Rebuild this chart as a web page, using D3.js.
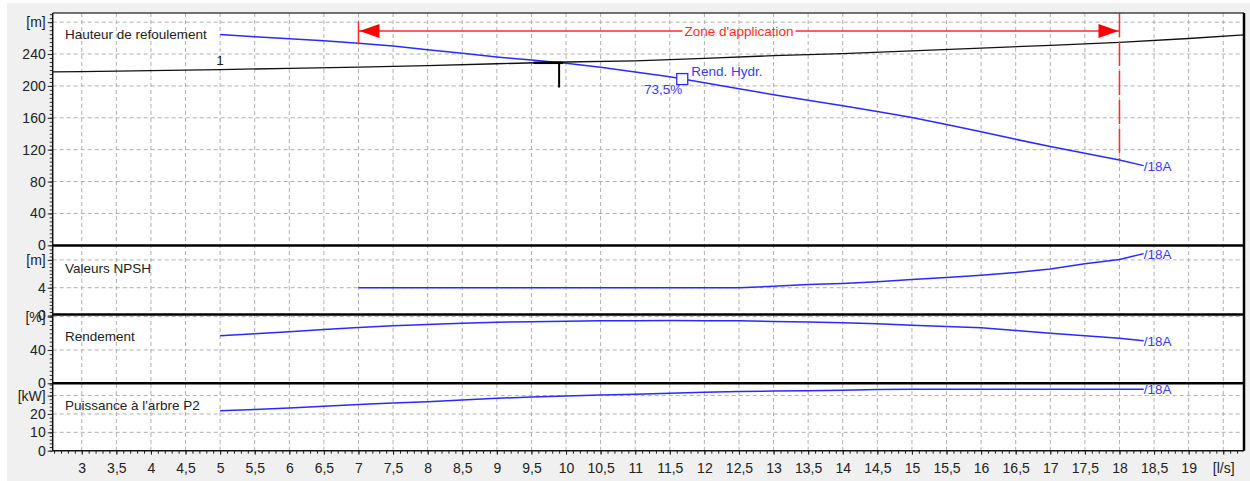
<!DOCTYPE html>
<html>
<head>
<meta charset="utf-8">
<script src="https://cdn.jsdelivr.net/npm/d3@7"></script>
<style>
  body { margin: 0; background: #fff; }
  svg { display: block; font-family: "Liberation Sans", Arial, sans-serif; }
</style>
</head>
<body>
<div id="viscontainer"></div>
<script>
// pump curve
const flow = [5, 5.5, 6, 6.5, 7, 7.5, 8, 8.5, 9, 9.5, 10, 10.5, 11, 11.5, 12, 12.5,
  13, 13.5, 14, 14.5, 15, 15.5, 16, 16.5, 17, 17.5, 18, 18.35];
const hauteur = [264.5, 261.8, 259.2, 256.7, 253.4, 250, 245.5, 241, 236.3, 232.5, 228.5, 223.5,
  217.5, 211.5, 204, 196.5, 189, 182, 175, 168, 160.5, 151.5, 142.5, 133, 124, 115.5, 107, 100];
const rendement = [57, 59.5, 62, 64.5, 67, 69, 70.5, 72, 73.2, 74, 74.5, 75, 75.2, 75.3, 75.2, 75,
  74.3, 73.5, 72.8, 71.5, 69.8, 68.3, 66.8, 63.5, 60, 57, 54, 51];
const puissance = [21.8, 22.5, 23.3, 24.2, 25.2, 26, 26.7, 27.6, 28.5, 29.2, 29.8, 30.3, 30.7,
  31.3, 31.8, 32.2, 32.5, 32.7, 32.9, 33.3, 33.4, 33.4, 33.4, 33.4, 33.4, 33.4, 33.4, 33.4];

const npshFlow = [7, 8, 9, 10, 11, 12, 12.5, 13, 13.5, 14, 14.5, 15, 15.5, 16, 16.5, 17, 17.5, 18, 18.35];
const npsh = [4, 4, 4, 4, 4, 4, 4, 4.2, 4.45, 4.6, 4.85, 5.17, 5.45, 5.8, 6.17, 6.7, 7.46, 8.07, 8.9];

// system curve "1"
const systemFlow = [2.58, 3, 4, 5, 6, 7, 8, 9, 10, 11, 12, 13, 14, 15, 16, 17, 18, 19, 19.8];
const systemHead = [217.5, 218, 219.3, 220.5, 222, 223.5, 225.5, 227.8, 230, 231.5, 234.5, 238,
  240.5, 244, 247.5, 251, 254.7, 259.5, 264];

const dutyPoint = { q: 9.9, h: 229 };
const bepPoint = { q: 11.68, h: 208.6, label: "73,5%" };
const zone = [7, 18];

const xTicks = [3, 3.5, 4, 4.5, 5, 5.5, 6, 6.5, 7, 7.5, 8, 8.5, 9, 9.5, 10, 10.5, 11, 11.5, 12,
  12.5, 13, 13.5, 14, 14.5, 15, 15.5, 16, 16.5, 17, 17.5, 18, 18.5, 19, 19.5];
const xUnit = "[l/s]";

const headTicks = [0, 40, 80, 120, 160, 200, 240, 280];
const npshTicks = [0, 4, 8];
const rendTicks = [0, 40, 80];
const puisTicks = [0, 10, 20, 30];

function makeVis() {
  const width = 1250;
  const height = 481;
  const left = 52.7, right = 1244, top = 13, bottom = 450.7;
  const blue = "#2a2aff";
  const blueText = "#3a3aff";
  const red = "#ff2a2a";
  const fmt = (v) => String(v).replace(".", ",");

  const svg = d3.create("svg").attr("width", width).attr("height", height);
  viscontainer.append(svg.node());

  svg.append("rect").attr("x", 7).attr("y", 3).attr("width", width - 7).attr("height", height - 3)
    .attr("fill", "#f0f0f0");
  svg.append("rect").attr("x", left).attr("y", top).attr("width", right - left).attr("height", bottom - top)
    .attr("fill", "#fff");

  const x = d3.scaleLinear().domain([2.58, 19.8]).range([left, right]);

  const panels = [
    { name: "Hauteur de refoulement", y: d3.scaleLinear([0, 291.5], [245.3, 13]), ticks: headTicks, unit: "[m]", minor: 5, labelY: 39,
      series: [{ q: flow, v: hauteur }] },
    { name: "Valeurs NPSH", y: d3.scaleLinear([0, 10], [315.5, 246]), ticks: npshTicks, unit: "[m]", minor: 0.5, labelY: 273,
      series: [{ q: npshFlow, v: npsh }] },
    { name: "Rendement", y: d3.scaleLinear([0, 83.2], [383.3, 314]), ticks: rendTicks, unit: "[%]", minor: 5, labelY: 341,
      series: [{ q: flow, v: rendement }] },
    { name: "Puissance à l'arbre P2", y: d3.scaleLinear([0, 36.7], [450.7, 383.3]), ticks: puisTicks, unit: "[kW]", minor: 2, labelY: 410,
      series: [{ q: flow, v: puissance }] },
  ];

  // vertical grid
  svg.append("g").selectAll("line").data(xTicks).join("line")
    .attr("x1", (d) => x(d)).attr("x2", (d) => x(d))
    .attr("y1", top).attr("y2", bottom)
    .attr("stroke", "#b0b0b0").attr("stroke-dasharray", "4,3");

  panels.forEach((p) => {
    const lastTick = p.ticks[p.ticks.length - 1];
    // horizontal grid
    svg.append("g").selectAll("line").data(p.ticks.slice(1)).join("line")
      .attr("x1", left).attr("x2", right)
      .attr("y1", (d) => p.y(d)).attr("y2", (d) => p.y(d))
      .attr("stroke", "#b0b0b0").attr("stroke-dasharray", "4,3");

    // minor ticks
    const [d0, d1] = p.y.domain();
    const minorAxis = d3.axisLeft(p.y).tickValues(d3.range(d0, d1, p.minor)).tickSize(3).tickFormat("");
    svg.append("g").attr("transform", `translate(${left},0)`).call(minorAxis)
      .call((g) => g.select(".domain").remove())
      .selectAll("line").attr("stroke", "#333");

    const axis = d3.axisLeft(p.y).tickValues(p.ticks).tickSize(5).tickPadding(2)
      .tickFormat((d) => (d === lastTick ? p.unit : fmt(d)));
    const g = svg.append("g").attr("transform", `translate(${left},0)`).call(axis);
    g.select(".domain").remove();
    g.selectAll("line").attr("stroke", "#222");
    g.selectAll("text").attr("font-size", 14).attr("fill", "#222")
      .attr("font-family", "Liberation Sans, Arial, sans-serif");

    svg.append("text").attr("x", 65).attr("y", p.labelY).attr("font-size", 13.5).attr("fill", "#222")
      .text(p.name);

    const line = d3.line().x((d) => x(d[0])).y((d) => p.y(d[1]));
    p.series.forEach((s) => {
      const pts = s.q.map((q, i) => [q, s.v[i]]);
      svg.append("path").attr("d", line(pts)).attr("fill", "none")
        .attr("stroke", blue).attr("stroke-width", 1.5);
      const last = pts[pts.length - 1];
      svg.append("text").attr("x", x(last[0])).attr("y", p.y(last[1]) + 5)
        .attr("font-size", 13.5).attr("fill", blueText).text("/18A");
    });
  });

  const yH = panels[0].y;

  // system curve
  const sysLine = d3.line().x((d) => x(d[0])).y((d) => yH(d[1]));
  svg.append("path").attr("d", sysLine(systemFlow.map((q, i) => [q, systemHead[i]])))
    .attr("fill", "none").attr("stroke", "#111").attr("stroke-width", 1.3);
  svg.append("text").attr("x", x(5)).attr("y", yH(220.5) - 5).attr("text-anchor", "middle")
    .attr("font-size", 13.5).attr("fill", "#222").text("1");

  // duty point marker
  svg.append("line").attr("x1", x(dutyPoint.q)).attr("x2", x(dutyPoint.q))
    .attr("y1", yH(dutyPoint.h)).attr("y2", yH(dutyPoint.h - 31))
    .attr("stroke", "#000").attr("stroke-width", 2);
  svg.append("line").attr("x1", x(dutyPoint.q - 0.37)).attr("x2", x(dutyPoint.q + 0.06))
    .attr("y1", yH(dutyPoint.h)).attr("y2", yH(dutyPoint.h))
    .attr("stroke", "#000").attr("stroke-width", 2.5);

  // best efficiency point
  svg.append("rect").attr("x", x(bepPoint.q) - 5.5).attr("y", yH(bepPoint.h) - 5.5)
    .attr("width", 11).attr("height", 11).attr("fill", "#fff").attr("stroke", blue).attr("stroke-width", 1.3);
  svg.append("text").attr("x", x(bepPoint.q) + 9).attr("y", yH(bepPoint.h) - 3)
    .attr("font-size", 13.5).attr("fill", blueText).text("Rend. Hydr.");
  svg.append("text").attr("x", x(bepPoint.q)).attr("y", yH(bepPoint.h) + 15).attr("text-anchor", "end")
    .attr("font-size", 13.5).attr("fill", blueText).text(bepPoint.label);

  // zone d'application
  const zy = 31;
  const zx0 = x(zone[0]), zx1 = x(zone[1]);
  const zg = svg.append("g");
  zg.append("line").attr("x1", zx0).attr("x2", zx0).attr("y1", 21.5).attr("y2", 43.5)
    .attr("stroke", red).attr("stroke-width", 1.5);
  zg.append("line").attr("x1", zx0).attr("x2", zx1).attr("y1", zy).attr("y2", zy)
    .attr("stroke", red).attr("stroke-width", 1.5);
  zg.append("line").attr("x1", zx1).attr("x2", zx1).attr("y1", top).attr("y2", yH(107))
    .attr("stroke", red).attr("stroke-width", 1.5).attr("stroke-dasharray", "24,5");
  zg.append("path").attr("d", `M${zx0 + 1},${zy}L${zx0 + 21},${zy - 7}L${zx0 + 21},${zy + 7}Z`).attr("fill", "#ff0000");
  zg.append("path").attr("d", `M${zx1 - 1},${zy}L${zx1 - 21},${zy - 7}L${zx1 - 21},${zy + 7}Z`).attr("fill", "#ff0000");
  const zbg = zg.append("rect").attr("fill", "#fff");
  const zt = zg.append("text").attr("x", (zx0 + zx1) / 2).attr("y", zy + 5).attr("text-anchor", "middle")
    .attr("font-size", 13.5).attr("fill", red).text("Zone d'application");
  const bb = zt.node().getBBox();
  zbg.attr("x", bb.x - 2).attr("y", zy - 2).attr("width", bb.width + 4).attr("height", 4);

  // panel separators and frame
  [245.5, 314.5, 383.3].forEach((yy) => {
    svg.append("line").attr("x1", left).attr("x2", right).attr("y1", yy).attr("y2", yy)
      .attr("stroke", "#000").attr("stroke-width", 2.5);
  });
  svg.append("line").attr("x1", left).attr("x2", right).attr("y1", top).attr("y2", top)
    .attr("stroke", "#444").attr("stroke-width", 1.5);
  svg.append("line").attr("x1", right).attr("x2", right).attr("y1", top).attr("y2", bottom)
    .attr("stroke", "#000").attr("stroke-width", 2.5);
  svg.append("line").attr("x1", left).attr("x2", left).attr("y1", top).attr("y2", bottom)
    .attr("stroke", "#111").attr("stroke-width", 1.5);

  // x axis
  svg.append("g").attr("transform", `translate(0,${bottom})`)
    .call(d3.axisBottom(x).tickValues(d3.range(26, 198).map((d) => d / 10)).tickSize(3).tickFormat(""))
    .call((g) => g.select(".domain").remove())
    .selectAll("line").attr("stroke", "#222");
  const xa = svg.append("g").attr("transform", `translate(0,${bottom})`)
    .call(d3.axisBottom(x).tickValues(xTicks).tickSize(4).tickPadding(8)
      .tickFormat((d) => (d === 19.5 ? xUnit : fmt(d))));
  xa.select(".domain").remove();
  xa.selectAll("line").attr("stroke", "#222");
  xa.selectAll("text").attr("font-size", 14).attr("fill", "#222")
    .attr("font-family", "Liberation Sans, Arial, sans-serif");
  svg.append("line").attr("x1", left).attr("x2", right).attr("y1", bottom).attr("y2", bottom)
    .attr("stroke", "#111").attr("stroke-width", 1.5);
}

makeVis();
</script>
</body>
</html>
